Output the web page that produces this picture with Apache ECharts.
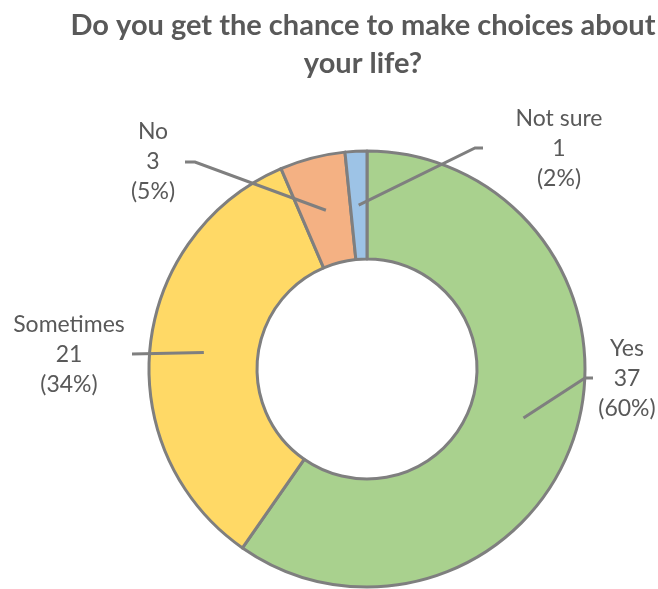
<!DOCTYPE html>
<html>
<head>
<meta charset="utf-8">
<script src="https://cdn.jsdelivr.net/npm/echarts@6/dist/echarts.min.js"></script>
<style>
  html, body { margin: 0; padding: 0; background: #ffffff; }
  #chart { width: 658px; height: 589px; }
</style>
</head>
<body>
<div id="chart"></div>
<script>
// Survey answers, drawn clockwise from 12 o'clock
const categories = ['Yes', 'Sometimes', 'No', 'Not sure'];
const counts = [37, 21, 3, 1];
const sliceColors = ['#A9D18E', '#FFD966', '#F4B183', '#9DC3E6'];

// Where each answer's label sits, and where its leader line bends
const labelCenters = [[627, 379], [69, 355], [153, 162], [559, 149]];
const lineBends = [[585, 378], [132, 354], [195, 162], [475, 148]];
const lineEnds = [[593, 378], [132, 354], [185, 162], [483, 148]];

const chart = echarts.init(document.getElementById('chart'));
const textColor = '#595959';
const font = 'Lato, "Open Sans", sans-serif';

chart.setOption({
  animation: false,
  title: {
    text: 'Do you get the chance to make choices about\nyour life?',
    left: 358,
    top: 2,
    textAlign: 'center',
    textStyle: {
      fontFamily: font,
      fontWeight: 'bold',
      fontSize: 29,
      lineHeight: 38,
      color: textColor
    }
  },
  series: [{
    type: 'pie',
    center: [367, 369],
    radius: [110, 218],
    startAngle: 90,
    clockwise: true,
    avoidLabelOverlap: false,
    itemStyle: { borderColor: '#7F7F7F', borderWidth: 3 },
    label: {
      show: true,
      position: 'outside',
      fontFamily: font,
      fontSize: 23,
      lineHeight: 30,
      color: textColor,
      align: 'center',
      formatter: p => p.name + '\n' + p.value + '\n(' + Math.round(p.percent) + '%)'
    },
    labelLine: { show: false },
    labelLayout: p => ({
      x: labelCenters[p.dataIndex][0],
      y: labelCenters[p.dataIndex][1],
      align: 'center',
      verticalAlign: 'middle'
    }),
    emphasis: { disabled: true },
    data: categories.map((c, i) => ({
      name: c,
      value: counts[i],
      itemStyle: { color: sliceColors[i] }
    }))
  }]
});

// Leader lines: start mid-ring at each slice's middle angle
const seriesData = chart.getModel().getSeriesByIndex(0).getData();
const leaders = categories.map((c, i) => {
  const lay = seriesData.getItemLayout(i);
  const mid = (lay.startAngle + lay.endAngle) / 2;
  const r = (lay.r0 + lay.r) / 2;
  const ax = lay.cx + r * Math.cos(mid);
  const ay = lay.cy + r * Math.sin(mid);
  return {
    type: 'polyline',
    z: 10,
    silent: true,
    shape: { points: [[ax, ay], lineBends[i], lineEnds[i]] },
    style: { stroke: '#7F7F7F', lineWidth: 3, fill: null }
  };
});
chart.setOption({ graphic: leaders });
</script>
</body>
</html>
